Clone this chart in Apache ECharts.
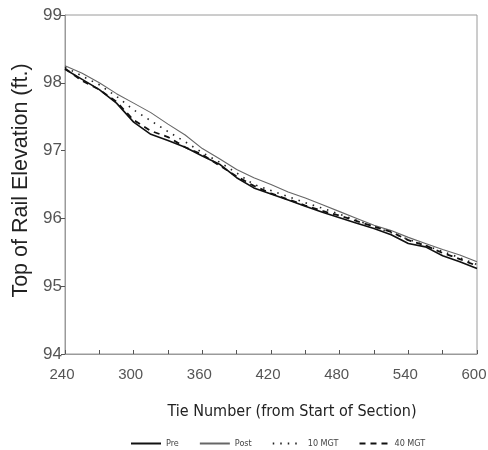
<!DOCTYPE html>
<html>
<head>
<meta charset="utf-8">
<script src="https://cdn.jsdelivr.net/npm/echarts@6/dist/echarts.min.js"></script>
<style>html,body{margin:0;padding:0;background:#fff;}#c{width:488px;height:450px;}</style>
</head>
<body>
<div id="c"></div>
<script>
var ties = [240,255,270,285,300,315,330,345,360,375,390,405,420,435,450,465,480,495,510,525,540,555,570,585,600];
var pre   = [98.20,98.05,97.90,97.70,97.42,97.24,97.15,97.05,96.92,96.80,96.60,96.45,96.36,96.27,96.18,96.09,96.01,95.93,95.85,95.76,95.63,95.58,95.45,95.36,95.26];
var post  = [98.25,98.14,98.00,97.84,97.70,97.56,97.39,97.23,97.03,96.88,96.72,96.60,96.50,96.39,96.30,96.20,96.10,96.00,95.90,95.82,95.72,95.63,95.54,95.46,95.36];
var mgt10 = [98.23,98.10,97.97,97.80,97.60,97.44,97.28,97.13,96.97,96.83,96.67,96.50,96.41,96.32,96.23,96.15,96.06,95.97,95.88,95.79,95.69,95.60,95.51,95.42,95.32];
var mgt40 = [98.21,98.03,97.90,97.72,97.45,97.29,97.20,97.05,96.94,96.78,96.62,96.48,96.37,96.28,96.19,96.11,96.04,95.96,95.88,95.80,95.68,95.60,95.49,95.40,95.30];
var seriesNames = ['Pre','Post','10 MGT','40 MGT'];
var xLabelTicks = [240,300,360,420,480,540,600];

function pairs(v){ return ties.map(function(t,i){ return [t, v[i]]; }); }

var chart = echarts.init(document.getElementById('c'), null, {renderer:'canvas'});
chart.setOption({
  animation: false,
  grid: {left: 65, right: 11, top: 15, bottom: 96, show: true, borderColor: '#9a9a9a', borderWidth: 1,
         containLabel: false, outerBoundsMode: 'none'},
  legend: {
    data: seriesNames, left: 125, top: 434, itemWidth: 30, itemHeight: 8, itemGap: 20,
    itemStyle: {opacity: 0},
    textStyle: {fontFamily: 'DejaVu Sans Condensed', fontSize: 9, color: '#444'}
  },
  xAxis: {
    type: 'value', min: 240, max: 600, interval: 30,
    name: 'Tie Number (from Start of Section)', nameLocation: 'middle', nameGap: 50,
    nameTextStyle: {fontFamily: 'DejaVu Sans Condensed', fontSize: 16, color: '#222', padding: [0,0,0,42]},
    axisLine: {lineStyle: {color: '#9a9a9a', width: 1}},
    axisTick: {inside: true, length: 4, lineStyle: {color: '#555'}},
    axisLabel: {
      margin: 13, fontFamily: 'Liberation Sans', fontSize: 15, color: '#555', padding: [0,6,0,0],
      formatter: function(v){ return xLabelTicks.indexOf(v) >= 0 ? String(v) : ''; }
    },
    splitLine: {show: false}
  },
  yAxis: {
    type: 'value', min: 94, max: 99, interval: 1,
    name: 'Top of Rail Elevation (ft.)', nameLocation: 'middle', nameGap: 32,
    nameTextStyle: {fontFamily: 'Liberation Sans', fontSize: 21.5, color: '#222', padding: [0,0,0,8]},
    axisLine: {show: true, lineStyle: {color: '#9a9a9a', width: 1}},
    axisTick: {show: true, inside: false, length: 4, lineStyle: {color: '#555'}},
    axisLabel: {margin: 3, fontFamily: 'Liberation Sans', fontSize: 17, color: '#555'},
    splitLine: {show: false}
  },
  series: [
    {name: 'Pre', type: 'line', data: pairs(pre), symbol: 'none', smooth: false,
     lineStyle: {color: '#111', width: 1.6}, itemStyle: {color: '#111'}},
    {name: 'Post', type: 'line', data: pairs(post), symbol: 'none',
     lineStyle: {color: '#666', width: 1.1}, itemStyle: {color: '#666'}},
    {name: '10 MGT', type: 'line', data: pairs(mgt10), symbol: 'none',
     lineStyle: {color: '#222', width: 1.6, type: [1.5, 6]}, itemStyle: {color: '#222'}},
    {name: '40 MGT', type: 'line', data: pairs(mgt40), symbol: 'none',
     lineStyle: {color: '#111', width: 1.8, type: [6, 5]}, itemStyle: {color: '#111'}}
  ]
});
</script>
</body>
</html>
